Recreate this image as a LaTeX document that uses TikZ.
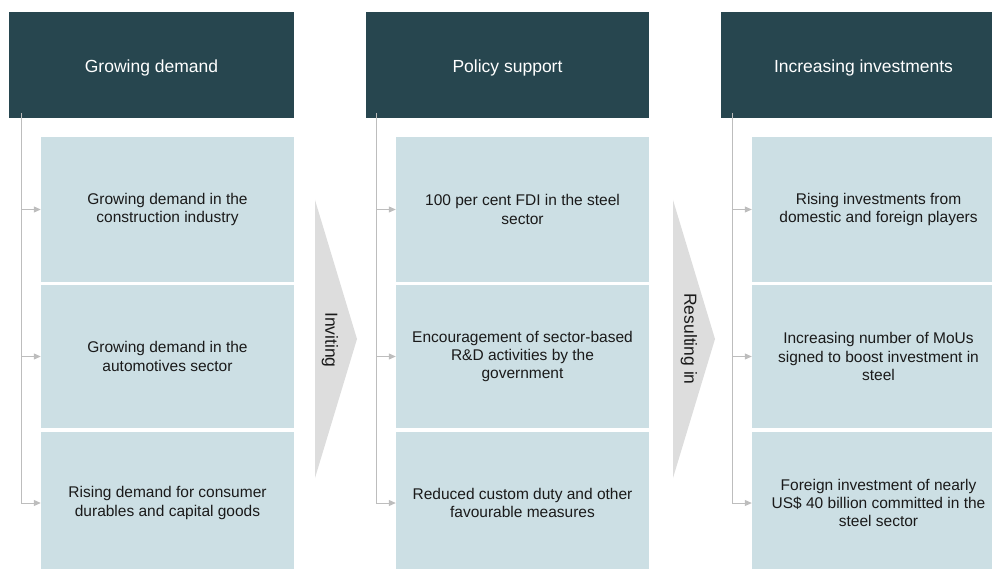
\documentclass[tikz,border=0pt]{standalone}
\usepackage{fontspec}
\setmainfont{Liberation Sans}
\usetikzlibrary{arrows.meta}
\definecolor{hdr}{HTML}{27464F}
\definecolor{cell}{HTML}{CCDFE4}
\definecolor{chev}{HTML}{DDDDDD}
\definecolor{conn}{HTML}{BDBDBD}
\definecolor{txt}{HTML}{1A1A1A}
\begin{document}
\begin{tikzpicture}[x=1pt,y=-1pt,
  hdrbox/.style={fill=hdr,text=white,font=\fontsize{17.5}{20}\selectfont,inner sep=0pt,minimum height=106pt,minimum width=285pt,text height=15pt,text depth=0pt},
  cellbox/.style={fill=cell,text=txt,font=\fontsize{15.5}{18.3}\selectfont,align=center,inner sep=0pt,minimum width=253pt},
  chevshape/.style={fill=chev,draw=none},
  chevlabel/.style={rotate=-90,text=txt,font=\fontsize{17.5}{20}\selectfont},
  conline/.style={draw=conn,line width=1pt},
  conarrow/.style={conline,-{Triangle[length=7pt,width=6pt]}}]
\useasboundingbox (0,0) rectangle (992,569);
\begin{scope}
\clip (0,0) rectangle (992,569);
% headers
\node[hdrbox] (h1) at (151.5,65) {Growing demand};
\node[hdrbox,minimum width=283pt] (h2) at (507.5,65) {Policy support};
\node[hdrbox] (h3) at (863.5,65) {Increasing investments};
% column 1 cells
\node[cellbox,minimum height=145pt] (a1) at (167.5,209.5) {Growing demand in the\\construction industry};
\node[cellbox,minimum height=143pt] (a2) at (167.5,356.5) {Growing demand in the\\automotives sector};
\node[cellbox,minimum height=142pt] (a3) at (167.5,503) {Rising demand for consumer\\durables and capital goods};
% column 2 cells
\node[cellbox,minimum height=145pt] (b1) at (522.5,209.5) {100 per cent FDI in the steel\\sector};
\node[cellbox,minimum height=143pt] (b2) at (522.5,356.5) {Encouragement of sector-based\\R\&D activities by the\\government};
\node[cellbox,minimum height=142pt] (b3) at (522.5,503) {Reduced custom duty and other\\favourable measures};
% column 3 cells
\node[cellbox,minimum height=145pt] (c1) at (878.5,209.5) {Rising investments from\\domestic and foreign players};
\node[cellbox,minimum height=143pt] (c2) at (878.5,356.5) {Increasing number of MoUs\\signed to boost investment in\\steel};
\node[cellbox,minimum height=142pt] (c3) at (878.5,503) {Foreign investment of nearly\\US\$ 40 billion committed in the\\steel sector};
\end{scope}
% chevrons
\coordinate (v1a) at (315,200);
\coordinate (v1b) at (357,339);
\coordinate (v1c) at (315,478);
\fill[chevshape] (v1a) -- (v1b) -- (v1c) -- cycle;
\node[chevlabel] (l1) at (330,340) {Inviting};
\coordinate (v2a) at (673,200);
\coordinate (v2b) at (715,339);
\coordinate (v2c) at (673,478);
\fill[chevshape] (v2a) -- (v2b) -- (v2c) -- cycle;
\node[chevlabel] (l2) at (689,339) {Resulting in};
% connectors
\coordinate (t1) at (21,113);
\coordinate (t2) at (376.5,113);
\coordinate (t3) at (732.5,113);
\draw[conarrow] (t1) |- (a3.west);
\draw[conarrow] (t1 |- a1.west) -- (a1.west);
\draw[conarrow] (t1 |- a2.west) -- (a2.west);
\draw[conarrow] (t2) |- (b3.west);
\draw[conarrow] (t2 |- b1.west) -- (b1.west);
\draw[conarrow] (t2 |- b2.west) -- (b2.west);
\draw[conarrow] (t3) |- (c3.west);
\draw[conarrow] (t3 |- c1.west) -- (c1.west);
\draw[conarrow] (t3 |- c2.west) -- (c2.west);
\end{tikzpicture}
\end{document}
